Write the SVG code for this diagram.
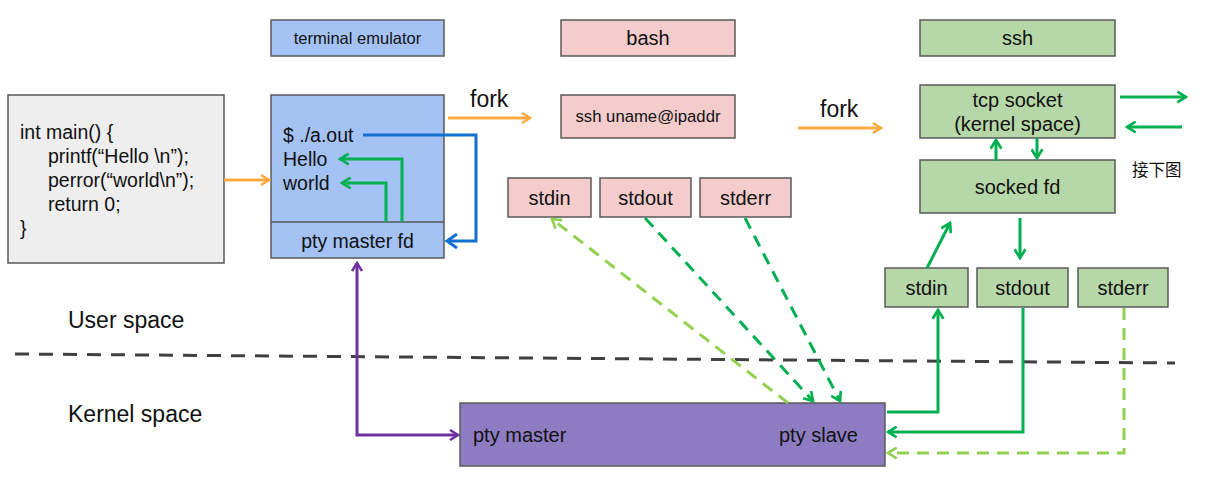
<svg xmlns="http://www.w3.org/2000/svg" width="1206" height="499" viewBox="0 0 1206 499">
<defs>
<style>
text{font-family:"Liberation Sans",Arial,sans-serif;fill:#111}
.box{stroke:#595959;stroke-width:1.5}
.blue{fill:#a4c2f4}.pink{fill:#f4cccc}.grn{fill:#b6d7a8}.gray{fill:#eeeeee}.pur{fill:#8e7cc3}
.c{text-anchor:middle}
.t{font-size:20px}
.ln{fill:none;stroke-width:3}
.or{stroke:#ffa940}.bl{stroke:#1170cf}.g{stroke:#00b050}.lg{stroke:#92d050}.pp{stroke:#7030a0}
.d{stroke-dasharray:12 8}
</style>
<marker id="mo" viewBox="0 0 12 12" refX="10" refY="6" markerWidth="12" markerHeight="12" markerUnits="userSpaceOnUse" orient="auto-start-reverse"><path d="M2,1 L10,6 L2,11" fill="none" stroke="#ffa940" stroke-width="2.5"/></marker>
<marker id="mg" viewBox="0 0 12 12" refX="10" refY="6" markerWidth="13" markerHeight="13" markerUnits="userSpaceOnUse" orient="auto"><path d="M2,1 L10,6 L2,11" fill="none" stroke="#00b050" stroke-width="2.5"/></marker>
<marker id="mlg" viewBox="0 0 12 12" refX="10" refY="6" markerWidth="13" markerHeight="13" markerUnits="userSpaceOnUse" orient="auto"><path d="M2,1 L10,6 L2,11" fill="none" stroke="#92d050" stroke-width="2.5"/></marker>
<marker id="mp" viewBox="0 0 12 12" refX="10" refY="6" markerWidth="12" markerHeight="12" markerUnits="userSpaceOnUse" orient="auto-start-reverse"><path d="M2,1 L10,6 L2,11" fill="none" stroke="#7030a0" stroke-width="2.5"/></marker>
</defs>
<rect width="1206" height="499" fill="#fff"/>

<line x1="15" y1="354" x2="1175" y2="363" stroke="#404040" stroke-width="3" stroke-dasharray="14 10"/>
<text x="68" y="328" font-size="23">User space</text>
<text x="68" y="422" font-size="23">Kernel space</text>

<g id="code"><rect class="box gray" x="8" y="95" width="216" height="168"/>
<text font-size="19.5"><tspan x="20" y="139">int main() {</tspan><tspan x="48" y="163">printf(“Hello \n”);</tspan><tspan x="48" y="187">perror(“world\n”);</tspan><tspan x="48" y="211">return 0;</tspan><tspan x="20" y="235">}</tspan></text></g>

<g id="term-title"><rect class="box blue" x="271" y="20" width="173" height="36"/><text class="c" x="357.5" y="44" font-size="16.5">terminal emulator</text></g>
<g id="terminal"><rect class="box blue" x="271" y="95" width="173" height="163"/><line x1="271" y1="222" x2="444" y2="222" stroke="#595959" stroke-width="1.5"/>
<text font-size="19.5"><tspan x="283" y="142">$ ./a.out</tspan><tspan x="283" y="166">Hello</tspan><tspan x="283" y="190">world</tspan></text>
<text class="c" x="357.5" y="248" font-size="19.5">pty master fd</text></g>

<g id="bash"><rect class="box pink" x="561" y="20" width="174" height="36"/><text class="c t" x="648" y="45">bash</text></g>
<g id="sshcmd"><rect class="box pink" x="561" y="95" width="174" height="43"/><text class="c" x="648" y="122" font-size="16.7">ssh uname@ipaddr</text></g>
<g id="b-stdin"><rect class="box pink" x="508" y="178" width="83" height="39"/><text class="c t" x="549.5" y="205">stdin</text></g>
<g id="b-stdout"><rect class="box pink" x="600" y="178" width="91" height="39"/><text class="c t" x="645.5" y="205">stdout</text></g>
<g id="b-stderr"><rect class="box pink" x="700" y="178" width="91" height="39"/><text class="c t" x="745.5" y="205">stderr</text></g>

<g id="ssh"><rect class="box grn" x="920" y="20" width="195" height="36"/><text class="c t" x="1017.5" y="45">ssh</text></g>
<g id="tcp"><rect class="box grn" x="920" y="85" width="195" height="53"/><text class="c t"><tspan x="1017.5" y="107">tcp socket</tspan><tspan x="1017.5" y="131">(kernel space)</tspan></text></g>
<g id="sockfd"><rect class="box grn" x="920" y="160" width="195" height="53"/><text class="c t" x="1017.5" y="194">socked fd</text></g>
<g id="s-stdin"><rect class="box grn" x="885" y="268" width="83" height="39"/><text class="c t" x="926.5" y="295">stdin</text></g>
<g id="s-stdout"><rect class="box grn" x="977" y="268" width="91" height="39"/><text class="c t" x="1022.5" y="295">stdout</text></g>
<g id="s-stderr"><rect class="box grn" x="1078" y="268" width="90" height="39"/><text class="c t" x="1123" y="295">stderr</text></g>
<text x="1132" y="176" font-size="16.5" style="font-family:'Noto Sans CJK SC',sans-serif">接下图</text>

<g id="pty"><rect class="box pur" x="460" y="403" width="425" height="63"/>
<text class="t" x="473" y="442">pty master</text><text class="t" x="779" y="442">pty slave</text></g>

<g id="connectors">
<line class="ln or" x1="224" y1="180" x2="269" y2="180" marker-end="url(#mo)"/>
<line class="ln or" x1="448" y1="118" x2="530" y2="118" marker-end="url(#mo)"/>
<text x="470" y="107" font-size="23">fork</text>
<line class="ln or" x1="798" y1="128" x2="881" y2="128" marker-end="url(#mo)"/>
<text x="820" y="117" font-size="23">fork</text>
<path class="ln bl" d="M363,135 H476 V241 H447"/>
<path d="M457,234 L447,241 L457,248" fill="none" stroke="#1170cf" stroke-width="3"/>
<path class="ln g" d="M402,222 V159 H340" marker-end="url(#mg)"/>
<path class="ln g" d="M386,222 V183 H342" marker-end="url(#mg)"/>
<path class="ln pp" d="M357,263 V435 H458" marker-start="url(#mp)" marker-end="url(#mp)"/>
<line class="ln lg d" x1="788" y1="403" x2="552" y2="219" marker-end="url(#mlg)"/>
<line class="ln g d" x1="645" y1="218" x2="813" y2="401" marker-end="url(#mg)"/>
<line class="ln g d" x1="745" y1="218" x2="840" y2="401" marker-end="url(#mg)"/>
<path class="ln g" d="M887,412 H938 V310" marker-end="url(#mg)"/>
<path class="ln g" d="M1023,308 V432 H888" marker-end="url(#mg)"/>
<path class="ln lg d" d="M1124,308 V453 H888" marker-end="url(#mlg)"/>
<line class="ln g" x1="927" y1="268" x2="950" y2="223" marker-end="url(#mg)"/>
<line class="ln g" x1="1020" y1="218" x2="1020" y2="258" marker-end="url(#mg)"/>
<line class="ln g" x1="996" y1="161" x2="996" y2="140" marker-end="url(#mg)"/>
<line class="ln g" x1="1037" y1="138" x2="1037" y2="158" marker-end="url(#mg)"/>
<line class="ln g" x1="1120" y1="97" x2="1186" y2="97" marker-end="url(#mg)"/>
<line class="ln g" x1="1182" y1="127" x2="1127" y2="127" marker-end="url(#mg)"/>
</g>
</svg>
